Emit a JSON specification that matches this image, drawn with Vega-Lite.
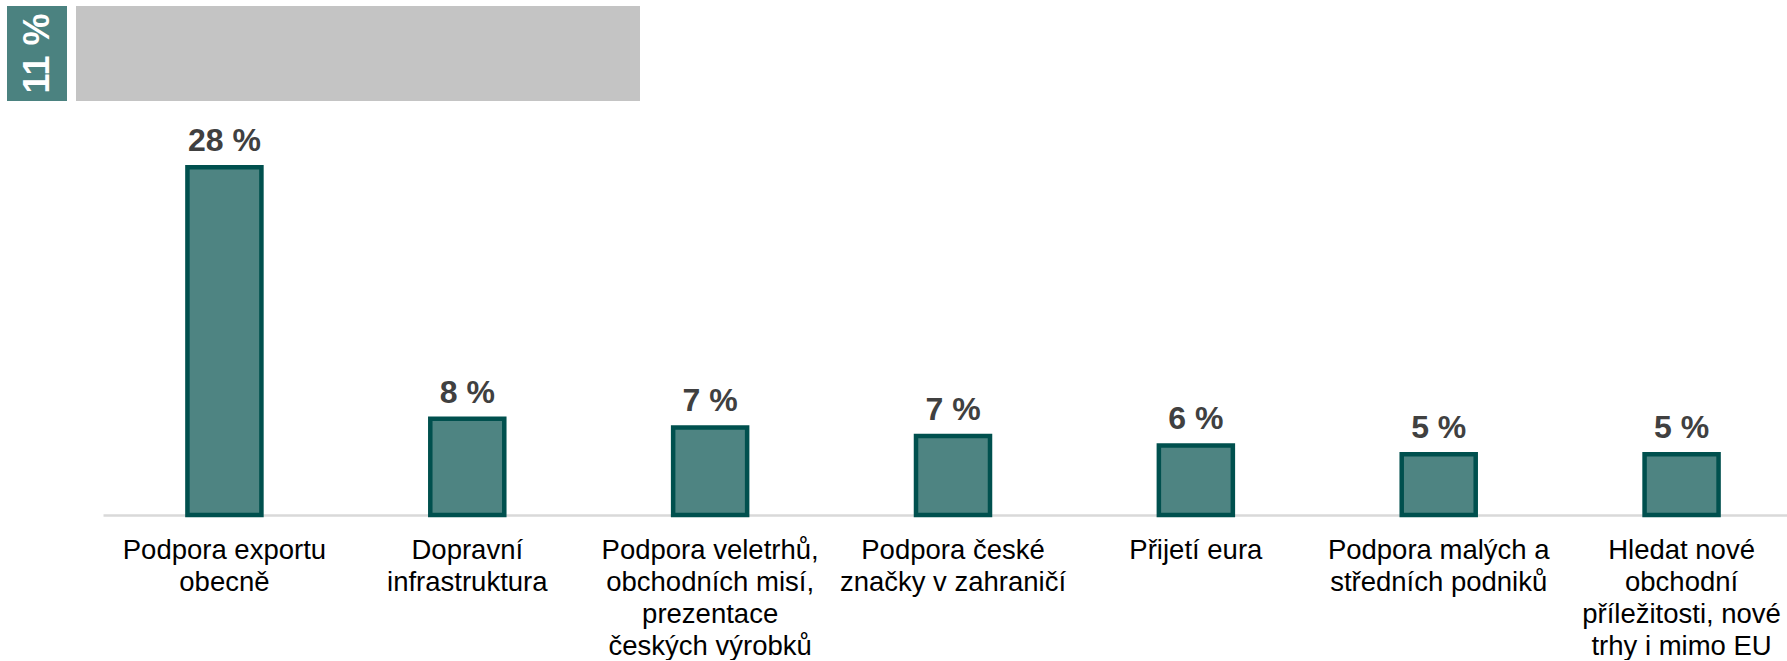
{
  "$schema": "https://vega.github.io/schema/vega-lite/v6.json",
  "padding": {"left": 7, "top": 6, "right": 0, "bottom": 0},
  "background": "white",
  "config": {"view": {"stroke": null}, "font": "Liberation Sans"},
  "spacing": 14,
  "vconcat": [
    {
      "hconcat": [
        {
          "width": 60, "height": 95,
          "data": {"values": [{"label": "11 %"}]},
          "layer": [
            {"mark": {"type": "rect", "color": "#4B8280"}, "encoding": {}},
            {"mark": {"type": "text", "angle": 270, "color": "white", "fontWeight": "bold", "fontSize": 36, "align": "center", "baseline": "middle", "dy": 1},
             "encoding": {"text": {"field": "label"}}}
          ]
        },
        {
          "width": 564, "height": 95,
          "data": {"values": [{"label": "ostatní"}]},
          "mark": {"type": "rect", "color": "#C4C4C4"},
          "encoding": {}
        }
      ],
      "spacing": 9
    },
    {
      "width": 1780, "height": 400,
      "data": {"values": [
        {"kategorie": "Podpora exportu|obecně", "podil": 28, "popisek": "28 %"},
        {"kategorie": "Dopravní|infrastruktura", "podil": 7.75, "popisek": "8 %"},
        {"kategorie": "Podpora veletrhů,|obchodních misí,|prezentace|českých výrobků", "podil": 7.05, "popisek": "7 %"},
        {"kategorie": "Podpora české|značky v zahraničí", "podil": 6.35, "popisek": "7 %"},
        {"kategorie": "Přijetí eura", "podil": 5.6, "popisek": "6 %"},
        {"kategorie": "Podpora malých a|středních podniků", "podil": 4.9, "popisek": "5 %"},
        {"kategorie": "Hledat nové|obchodní|příležitosti, nové|trhy i mimo EU", "podil": 4.9, "popisek": "5 %"}
      ]},
      "encoding": {
        "x": {
          "field": "kategorie", "type": "nominal", "sort": null,
          "scale": {"paddingInner": 0, "paddingOuter": 0, "range": [96, 1796]},
          "axis": {
            "title": null, "ticks": false, "domain": true, "domainColor": "#D9D9D9", "domainWidth": 2.5,
            "labelAngle": 0, "labelFontSize": 27.5, "labelColor": "#000000", "labelPadding": 21,
            "labelLineHeight": 32, "labelLimit": 500, "labelOverlap": false,
            "labelExpr": "split(datum.value, '|')"
          }
        },
        "y": {
          "field": "podil", "type": "quantitative",
          "scale": {"domain": [0, 32.2], "nice": false},
          "axis": null
        }
      },
      "layer": [
        {"mark": {"type": "bar", "size": 74, "fill": "#4E8482", "stroke": "#00504E", "strokeWidth": 4.5}},
        {"mark": {"type": "text", "fontSize": 32, "fontWeight": "bold", "color": "#404040", "baseline": "alphabetic", "dy": -16},
         "encoding": {"text": {"field": "popisek"}}}
      ]
    }
  ]
}
